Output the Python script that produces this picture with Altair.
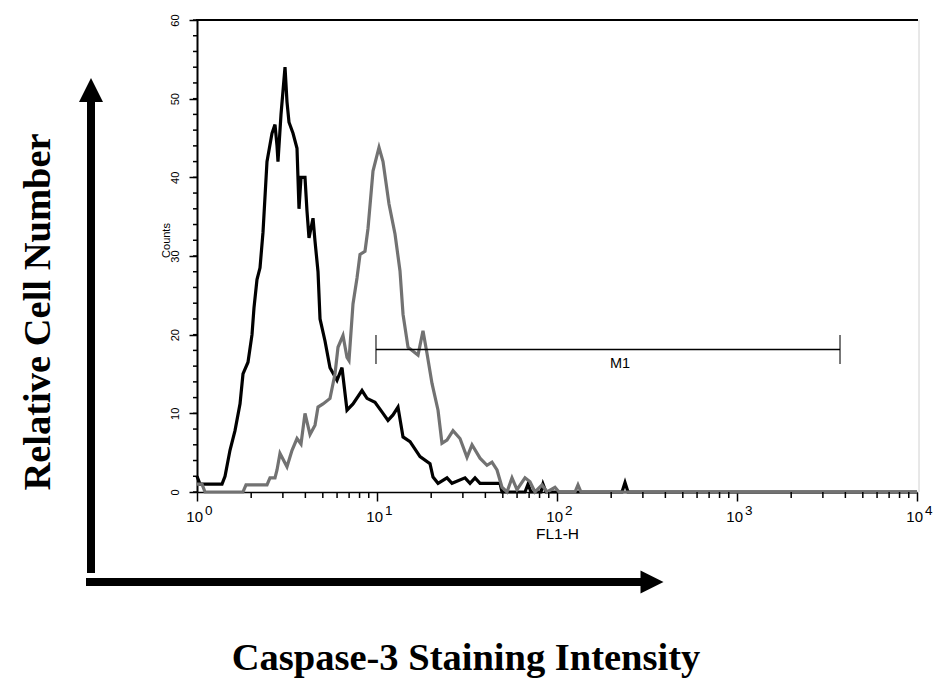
import altair as alt
import pandas as pd

# ---- data (FL1-H intensity, counts) ----
black_fl1 = [1.00, 1.039, 1.377, 1.431, 1.525, 1.626, 1.734, 1.801, 1.920, 2.021, 2.073, 2.154, 2.239, 2.326,
             2.448, 2.610, 2.712, 2.783, 2.818, 2.929, 3.083, 3.162, 3.244, 3.415, 3.594, 3.687, 3.783, 3.981,
             4.084, 4.190, 4.411, 4.525, 4.702, 4.825, 5.142, 5.481, 5.995, 6.391, 6.813, 7.356, 8.254, 8.799,
             9.747, 10.80, 11.51, 12.27, 13.08, 13.95, 15.26, 17.34, 19.70, 20.47, 21.83, 24.48, 26.10, 30.83,
             32.87, 35.04, 37.35, 48.25, 49.49, 66.40, 69.0, 71.7, 81.5, 83.6, 86.9, 229.7, 238.7, 248.0, 10000]
black_counts = [2, 1, 1, 2, 5.3, 7.8, 11.2, 15, 16.5, 20, 23.4, 27, 28.5, 33,
                42, 45.6, 46.7, 44, 42, 48, 54, 49.6, 47, 45.6, 43.7, 36, 40, 40,
                35.7, 32.3, 34.8, 31.9, 28, 22, 19.2, 15.8, 14.2, 15.8, 10.4, 11.2, 12.9, 11.9,
                11.4, 10, 9.1, 9.8, 10.8, 7, 6.4, 4.5, 3.6, 1.9, 1.1, 1.8, 1.1, 1.8,
                1.1, 1.8, 1.1, 1.1, 0, 0, 1, 0, 0, 1, 0, 0, 1.2, 0, 0]

grey_fl1 = [1.00, 1.066, 1.108, 1.801, 1.872, 2.448, 2.544, 2.712, 2.783, 2.891, 3.162, 3.372, 3.594, 3.783,
            3.981, 4.244, 4.525, 4.702, 5.012, 5.481, 5.843, 6.072, 6.473, 6.813, 6.988, 7.356, 7.743, 8.046,
            8.577, 8.913, 9.501, 10.26, 10.80, 11.66, 12.59, 13.42, 13.95, 14.87, 16.26, 16.90, 18.01, 18.96,
            20.21, 21.83, 22.96, 24.48, 26.44, 28.91, 31.62, 33.72, 37.35, 40.84, 43.53, 46.42, 49.49, 52.75,
            56.23, 59.95, 66.40, 70.79, 75.45, 82.54, 87.99, 97.47, 102.6, 125.9, 130.8, 135.9, 10000]
grey_counts = [1, 1, 0, 0, 0.9, 0.9, 1.8, 1.8, 2.8, 4.9, 3.2, 5.3, 6.8, 6.1,
               10, 7.3, 8.5, 10.8, 11.2, 11.9, 15, 18.4, 19.9, 17.1, 16.7, 23.9, 27.2, 30.2,
               30.6, 33.5, 40.8, 43.8, 42, 36.6, 32.8, 28.1, 22.6, 18.4, 17.7, 17.4, 20.5, 17.6,
               13.8, 10.4, 6.2, 6.6, 7.8, 6.8, 4.4, 6, 4.3, 3.4, 3.8, 2.8, 0.6, 0,
               1.8, 0.3, 1.8, 1.3, 0, 0.9, 0, 0.6, 0, 0, 0.9, 0, 0]

y_major = [0, 10, 20, 30, 40, 50, 60]
y_minor = list(range(0, 61, 2))
x_major = [1, 10, 100, 1000, 10000]
x_base = ["10", "10", "10", "10", "10"]
x_exponents = ["0", "1", "2", "3", "4"]
x_minor = [m * 10 ** d for d in range(4) for m in range(2, 10)]

m1_start, m1_end, m1_level = 9.87, 3735, 18.1
m1_label_x = 224
m1_label = "M1"

y_title_big = "Relative Cell Number"
x_title_big = "Caspase-3 Staining Intensity"

# ---- layout ----
W, H = 720, 472
SANS = "Liberation Sans"
SERIF = "Liberation Serif"
GREY = "#727272"

xscale = alt.Scale(type="log", domain=[1, 10000], nice=False)
yscale = alt.Scale(domain=[0, 60], nice=False, zero=False)

x_axis = alt.Axis(values=x_major, tickSize=9, tickWidth=1.5, tickColor="black", labels=False,
                  domainColor="black", domainWidth=1.5, grid=False,
                  title="FL1-H", titleFont=SANS, titleFontSize=15.5, titleFontWeight="normal",
                  titleColor="black", titleX=W / 2, titleY=46, titleBaseline="alphabetic",
                  titleAlign="center")
y_axis = alt.Axis(values=y_major, tickSize=8, tickWidth=1.5, tickColor="black",
                  domainColor="black", domainWidth=2, grid=False,
                  labelAngle=270, labelAlign="center", labelBaseline="alphabetic", labelPadding=11,
                  labelFont=SANS, labelFontSize=11, labelColor="black", labelFlush=False,
                  labelOverlap=False,
                  title="Counts", titleAngle=270, titleX=-31, titleY=220, titleAlign="center",
                  titleBaseline="middle", titleFont=SANS, titleFontSize=11,
                  titleFontWeight="normal", titleColor="black")


def X(field):
    return alt.X(field, scale=xscale, axis=x_axis)


def Y(field):
    return alt.Y(field, scale=yscale, axis=y_axis)


black_df = pd.DataFrame({"fl1": black_fl1, "count": black_counts})
grey_df = pd.DataFrame({"fl1": grey_fl1, "count": grey_counts})

black_line = alt.Chart(black_df).mark_line(color="black", strokeWidth=3.2, interpolate="linear").encode(
    x=X("fl1:Q"), y=Y("count:Q"))
grey_line = alt.Chart(grey_df).mark_line(color=GREY, strokeWidth=3.2, interpolate="linear").encode(
    x=X("fl1:Q"), y=Y("count:Q"))

# minor ticks
ymin_df = pd.DataFrame({"v": y_minor})
y_minor_ticks = alt.Chart(ymin_df).mark_rule(color="black", strokeWidth=1.5).encode(
    y=Y("v:Q"), x=alt.value(-4), x2=alt.value(0))
xmin_df = pd.DataFrame({"v": x_minor})
x_minor_ticks = alt.Chart(xmin_df).mark_rule(color="black", strokeWidth=1.5).encode(
    x=X("v:Q"), y=alt.value(H), y2=alt.value(H + 6))

# x tick labels 10^n
xt_df = pd.DataFrame({"v": x_major, "base": x_base, "exp": x_exponents})
x_lab_base = alt.Chart(xt_df).mark_text(font=SANS, fontSize=15, align="right", baseline="alphabetic",
                                        dx=6, color="black").encode(
    x=X("v:Q"), y=alt.value(H + 30), text="base:N")
x_lab_exp = alt.Chart(xt_df).mark_text(font=SANS, fontSize=13.5, align="left", baseline="alphabetic",
                                       dx=8, color="black").encode(
    x=X("v:Q"), y=alt.value(H + 23), text="exp:N")

one = alt.Data(values=[{"a": 1}])

# frame: top and right borders
top_border = alt.Chart(one).mark_rule(color="black", strokeWidth=2).encode(
    x=alt.value(-1), x2=alt.value(W + 1), y=alt.value(0))
right_border = alt.Chart(one).mark_rule(color="#d0d0d0", strokeWidth=1).encode(
    x=alt.value(W + 2), y=alt.value(0), y2=alt.value(H))

# M1 marker
m1_df = pd.DataFrame({"s": [m1_start], "e": [m1_end], "lvl": [m1_level],
                      "lx": [m1_label_x], "lab": [m1_label]})
m1_ends_df = pd.DataFrame({"x": [m1_start, m1_end], "lvl": [m1_level, m1_level]})
m1_rule = alt.Chart(m1_df).mark_rule(color="black", strokeWidth=1.5).encode(
    x=X("s:Q"), x2="e:Q", y=Y("lvl:Q"))
m1_ticks = alt.Chart(m1_ends_df).mark_tick(orient="vertical", size=29, thickness=1.5, color="black").encode(
    x=X("x:Q"), y=Y("lvl:Q"))
m1_text = alt.Chart(m1_df).mark_text(font=SANS, fontSize=14.5, dy=14, baseline="middle",
                                     align="center", color="black").encode(
    x=X("lx:Q"), y=Y("lvl:Q"), text="lab:N")

# big arrows
v_shaft = alt.Chart(one).mark_rule(color="black", strokeWidth=8, strokeCap="butt").encode(
    x=alt.value(-106), y=alt.value(82), y2=alt.value(553))
v_head = alt.Chart(one).mark_point(shape="M0,-1L1,1L-1,1Z", filled=True, size=576, color="black",
                                   opacity=1, strokeWidth=0).encode(x=alt.value(-106), y=alt.value(70))
h_shaft = alt.Chart(one).mark_rule(color="black", strokeWidth=8, strokeCap="butt").encode(
    x=alt.value(-111), x2=alt.value(445), y=alt.value(562))
h_head = alt.Chart(one).mark_point(shape="M1,0L-1,1L-1,-1Z", filled=True, size=529, color="black",
                                   opacity=1, strokeWidth=0).encode(x=alt.value(455), y=alt.value(562))

# big titles
y_big = alt.Chart(one).mark_text(text=y_title_big, font=SERIF, fontWeight="bold", fontSize=38.5, angle=270,
                                 align="center", baseline="alphabetic", color="black").encode(
    x=alt.value(-147), y=alt.value(292))
x_big = alt.Chart(one).mark_text(text=x_title_big, font=SERIF, fontWeight="bold", fontSize=38.5,
                                 align="center", baseline="alphabetic", color="black").encode(
    x=alt.value(269), y=alt.value(650))

chart = alt.layer(
    black_line, grey_line,
    y_minor_ticks, x_minor_ticks, top_border, right_border,
    m1_rule, m1_ticks, m1_text,
    x_lab_base, x_lab_exp,
    v_shaft, v_head, h_shaft, h_head, y_big, x_big,
).properties(
    width=W, height=H,
    autosize=alt.AutoSizeParams(type="none"),
    padding={"left": 197, "top": 20, "right": 16, "bottom": 187},
    background="white",
).configure_view(stroke=None)

chart.save("out.html", embed_options={"renderer": "svg", "actions": False})
